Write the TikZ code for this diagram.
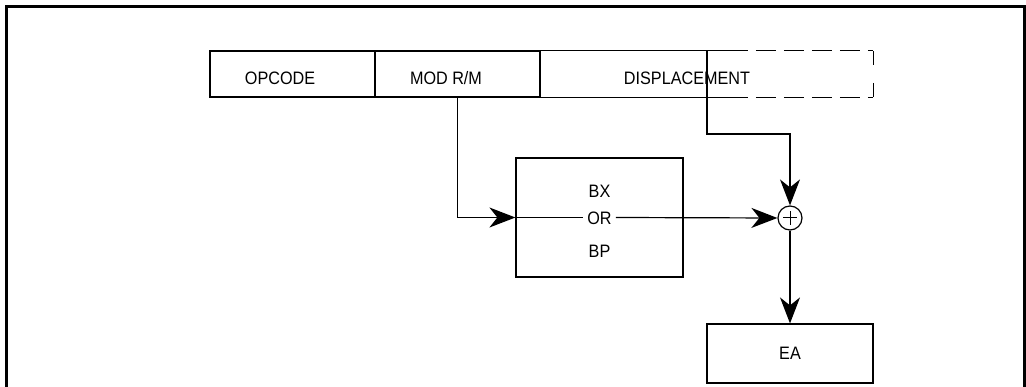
\documentclass[tikz,border=0pt]{standalone}
\usepackage{fontspec}
\setmainfont[FakeStretch=0.9]{Liberation Sans}
\usetikzlibrary{arrows.meta, positioning}

\tikzset{
  field/.style={draw, line width=1.2pt, minimum height=46pt, inner sep=0pt},
  lbl/.style={font=\fontsize{18}{21}\selectfont, inner sep=1pt, anchor=base},
  flow/.style={line width=1.2pt, -{Stealth[length=26pt,width=20pt,inset=8pt]}},
  wire/.style={line width=1.2pt},
}

\begin{document}
\begin{tikzpicture}[x=1pt, y=-1pt]
    % Page and frame
    \clip (0,0) rectangle (1026,387);
    \draw[line width=3pt] (6,400) |- (1024,7) -- (1024,400);

    % Instruction fields
    \node[field, minimum width=165pt] (opcode) at (292.5,74) {};
    \node[field, minimum width=165pt] (modrm) at (457.5,74) {};
    \node[minimum width=333pt, minimum height=46pt, inner sep=0pt] (disp) at (706.5,74) {};
    \draw[wire] (disp.north west) -- ++(188,0);
    \draw[wire] (disp.south west) -- ++(188,0);
    \draw[wire, dash pattern=on 20pt off 8pt] ([xshift=188pt]disp.north west) -- (disp.north east);
    \draw[wire, dash pattern=on 20pt off 8pt] ([xshift=188pt]disp.south west) -- (disp.south east);
    \draw[wire, dash pattern=on 14pt off 18pt] (disp.north east) -- (disp.south east);

    \node[lbl] (opcodetxt) at (280,85) {OPCODE};
    \node[lbl] (modrmtxt) at (446,85) {MOD R/M};
    \node[lbl] (disptxt) at (687,85) {DISPLACEMENT};

    % Base register
    \node[field, minimum width=167pt, minimum height=119pt] (reg) at (599.5,217.5) {};
    \node[lbl] (bxtxt) at (599.5,198) {BX};
    \node[lbl, inner xsep=4pt] (ortxt) at (599.5,225) {OR};
    \node[lbl] (bptxt) at (599.5,258) {BP};

    % Adder
    \node[draw, circle, line width=1.2pt, minimum size=24pt, inner sep=0pt,
      path picture={
        \draw[line width=1pt] ([xshift=-7pt]path picture bounding box.center) -- ([xshift=7pt]path picture bounding box.center);
        \draw[line width=1pt] ([yshift=-7pt]path picture bounding box.center) -- ([yshift=7pt]path picture bounding box.center);
      }] (sum) at (790,218) {};

    % Effective address
    \node[field, minimum width=166pt, minimum height=59pt] (ea) at (790,353.5) {};
    \node[lbl] (eatxt) at (790,360) {EA};

    % Connections
    \coordinate (dtap) at (707,51);
    \draw[flow] (modrm.south) |- (reg.west);
    \draw[wire] (reg.west) -- (ortxt.west |- reg.west);
    \draw[flow] (ortxt.east |- reg.west) -- (sum.west);
    \draw[flow] (dtap) -- ++(0,83) -| (sum.north);
    \draw[flow] (sum) -- (ea);
\end{tikzpicture}
\end{document}
